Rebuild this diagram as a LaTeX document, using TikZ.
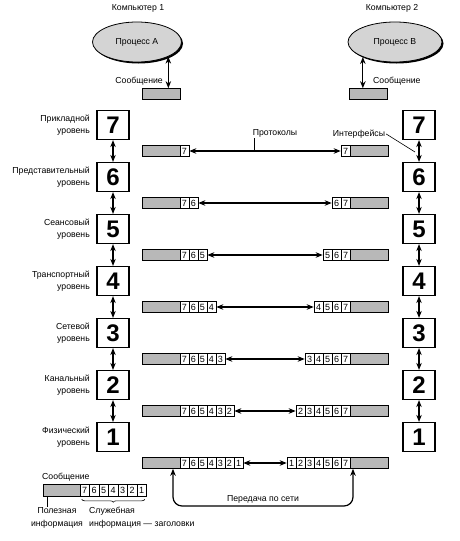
\documentclass[tikz,border=0pt]{standalone}
\usepackage{fontspec}
\setmainfont{Liberation Sans}
\usetikzlibrary{arrows.meta,positioning,calc,shapes.geometric,decorations.pathreplacing}

\begin{document}
\begin{tikzpicture}[x=1pt,y=-1pt,
  >={Stealth[length=7pt,width=5.5pt]},
  lvl/.style ={draw,line width=1.2pt,minimum width=32pt,minimum height=29pt,
               inner sep=0pt,font=\fontsize{24}{24}\selectfont\bfseries},
  lbl/.style ={font=\fontsize{8.7}{12.5}\selectfont,inner sep=1pt},
  msg/.style ={draw,line width=0.6pt,fill=black!28,minimum width=38pt,
               minimum height=11pt,inner sep=0pt},
  hdr/.style ={draw,line width=0.6pt,fill=white,minimum width=9pt,
               minimum height=11pt,inner sep=0pt,font=\fontsize{9}{9}\selectfont},
  proc/.style={ellipse,draw,line width=0.8pt,fill=black!17,inner sep=0pt,
               font=\fontsize{8.7}{10}\selectfont},
  arr/.style ={<->,line width=1.2pt},
  thin/.style={line width=0.6pt}
]
\useasboundingbox (0,0) rectangle (460,541);

%% Processes on both computers
\fill[black] (138.5,43.5) ellipse[x radius=44.5,y radius=20];
\fill[black] (396.5,43.5) ellipse[x radius=47,y radius=20];
\node[proc,minimum width=89pt,minimum height=40pt] (procA) at (137,42) {Процесс А};
\node[proc,minimum width=94pt,minimum height=40pt] (procB) at (395,42) {Процесс В};
\node[lbl] (compA) at (138,8) {Компьютер 1};
\node[lbl] (compB) at (392,8) {Компьютер 2};

\node[msg] (msgA) at (161,94) {};
\node[msg] (msgB) at (368,94) {};
\draw[arr] (procA.-25) -- (procA.-25 |- msgA.north);
\draw[arr] (procB.205) -- (procB.205 |- msgB.north);
\node[lbl,anchor=east] (txtA) at (164,81) {Сообщение};
\node[lbl,anchor=west] (txtB) at (372,81) {Сообщение};

%% Levels, 52pt apart
\foreach \k/\lname in {7/Прикладной,6/Представительный,5/Сеансовый,4/Транспортный,
                       3/Сетевой,2/Канальный,1/Физический} {
  \pgfmathsetmacro\yy{125+52*(7-\k)}
  \node[lvl] (A\k) at (113,\yy) {\k};
  \node[lvl] (B\k) at (419,\yy) {\k};
  \node[lbl,anchor=east,align=right] (n\k) at (91,\yy) {\lname\\уровень};
}
\foreach \k in {7,...,2} {
  \pgfmathtruncatemacro\j{\k-1}
  \draw[arr] (A\k.south) -- (A\j.north);
  \draw[arr] (B\k.south) -- (B\j.north);
}

%% Packets with headers
\foreach \k in {1,...,7} {
  \pgfmathsetmacro\yy{151+52*(7-\k)}
  \node[msg] (lg\k) at (161,\yy) {};
  \node[msg] (rg\k) at (369,\yy) {};
  \foreach \d in {\k,...,7} {
    \node[hdr] (L\k-\d) at ({184.5+9*(7-\d)},\yy) {\d};
    \node[hdr] (R\k-\d) at ({345.5-9*(7-\d)},\yy) {\d};
  }
  \draw[arr] (L\k-\k.east) -- (R\k-\k.west);
}

%% Protocols and interfaces
\node[lbl] (proto) at (275,133) {Протоколы};
\draw[thin] (proto.south west) ++(3,0) coordinate (pp) -- (pp |- L7-7.east);
\node[lbl] (intf) at (359,134) {Интерфейсы};
\draw[thin] (intf.east) -- ($(B7.south)!0.5!(B6.north)+(-4,1)$);

%% Transfer over the network
\coordinate (netL) at (173,506);
\coordinate (netR) at (353,506);
\draw[arr,rounded corners=9pt] (lg1.south -| netL) -- (netL) --
    node[lbl,above=1pt]{Передача по сети} (netR) -- (rg1.south -| netR);

%% Legend
\node[lbl,anchor=west] (leg) at (41,477) {Сообщение};
\node[msg,minimum width=37pt,minimum height=12pt] (lgm) at (61.5,490) {};
\foreach \d in {7,...,1}
  \node[hdr,minimum width=9.5pt,minimum height=12pt] (M\d) at ({84.75+9.5*(7-\d)},490) {\d};
\node[lbl,align=center] (useful) at (57,518) {Полезная\\информация};
\draw[thin] (lgm.south west) ++(5,0) coordinate (tk) -- (tk |- useful.north);
\draw[thin,decorate,decoration={brace,mirror,amplitude=3pt}]
    ($(M7.south west)+(2,3)$) -- ($(M1.south east)+(-2,3)$);
\node[lbl,anchor=north west,align=left] (service) at (88,506) {Служебная\\информация — заголовки};
\end{tikzpicture}
\end{document}
